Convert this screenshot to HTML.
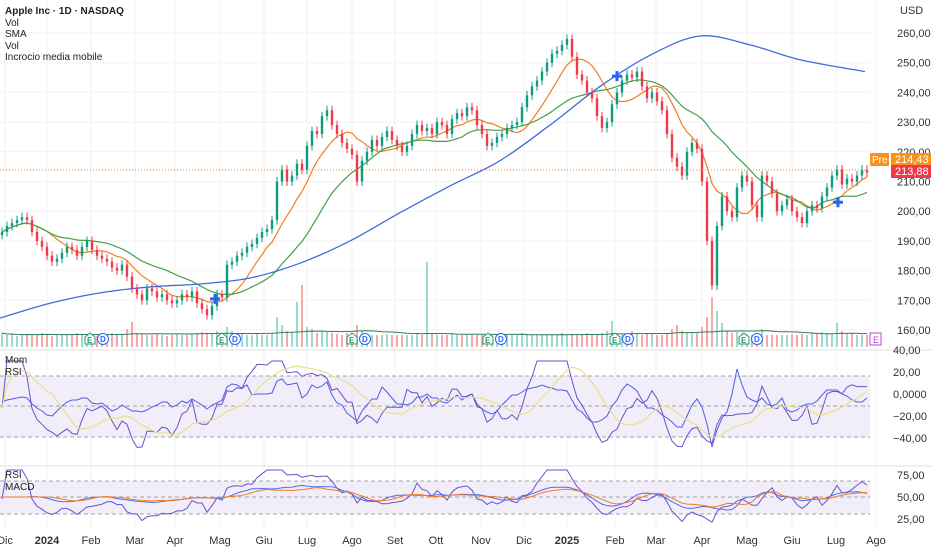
<!DOCTYPE html>
<html><head><meta charset="utf-8"><style>
body{margin:0;background:#fff;font-family:"Liberation Sans",sans-serif;}
#wrap{position:relative;width:932px;height:550px;overflow:hidden;}
svg text{font-family:"Liberation Sans",sans-serif;}
</style></head><body>
<div id="wrap">
<svg id="c" width="932" height="550"></svg>
</div>
<script>
const closes=[193,195,196,197,198,197,193,190,188,185,183,184,186,188,187,185,188,190,187,185,184,183,181,180,182,178,174,172,170,174,173,171,172,170,169,170,172,171,173,169,167,165,168,172,171,182,183,185,186,188,189,191,193,194,197,210,214,210,212,216,214,222,227,226,232,234,229,226,223,221,219,210,217,220,224,222,225,227,224,222,220,222,226,229,227,228,226,230,229,226,231,233,232,235,234,229,226,222,223,225,226,228,229,230,235,239,242,244,247,250,253,254,256,258,252,246,244,240,238,232,228,230,236,240,244,246,245,247,242,238,240,237,234,226,218,215,212,220,223,221,210,190,175,195,205,200,198,208,212,210,202,198,212,210,206,200,202,204,200,198,196,200,202,201,205,208,212,214,209,211,210,212,214,213];
const volumes=[14,12,13,11,12,13,12,12,14,13,11,12,12,13,12,14,12,13,12,11,12,13,14,12,13,18,25,14,13,12,12,13,12,11,12,13,12,12,13,14,15,14,13,16,14,20,16,14,13,12,12,13,12,12,14,30,22,16,15,45,62,20,18,14,16,15,14,13,12,14,14,22,16,13,12,12,12,13,12,12,12,12,12,13,12,85,14,12,12,12,13,12,12,13,12,12,12,12,12,12,12,12,12,12,14,13,12,12,12,13,12,12,14,12,13,12,13,14,12,12,14,16,26,12,12,14,16,13,12,14,14,12,12,14,18,22,16,14,15,14,20,30,50,36,24,16,14,15,14,13,12,13,18,12,12,12,12,12,13,12,13,12,14,14,15,14,13,24,16,14,14,12,12,12];
const smaSlowPts=[[0,164],[50,169],[100,172.5],[150,174.5],[200,175.5],[250,177.5],[300,182.5],[350,190],[400,199.5],[450,208.5],[500,217],[550,229],[600,242],[650,252.5],[700,259],[750,256],[800,251],[865,247]];
const priceTicks=[260,250,240,230,220,210,200,190,180,170,160];
const monthLabels=["Dic","2024","Feb","Mar","Apr","Mag","Giu","Lug","Ago","Set","Ott","Nov","Dic","2025","Feb","Mar","Apr","Mag","Giu","Lug","Ago"];
const monthX=[5,47,91,135,175,220,264,307,352,395,436,481,524,567,615,656,702,747,792,836,876];
const earningsX=[90,222,352,488,615,744];
const crossX=[215,617,838];
const crossP=[170.5,245.5,203];

const svg=document.getElementById('c');const NS='http://www.w3.org/2000/svg';
function mk(t,a,p){const e=document.createElementNS(NS,t);for(const k in a)e.setAttribute(k,a[k]);(p||svg).appendChild(e);return e;}
const xOf=i=>2+i*5;
const yP=p=>330-(p-160)*2.97;
for(const x of monthX){const g=mk('line',{x1:x,x2:x,y1:0,y2:530,stroke:'#f2f2f2'});}
for(const p of priceTicks){const g=mk('line',{x1:0,x2:870,y1:yP(p),y2:yP(p),stroke:'#f2f2f2'});
const t=mk('text',{x:897,y:yP(p)+4,'font-size':11,fill:'#333'});t.textContent=p.toFixed(2).replace('.',',');}
closes.forEach((c,i)=>{const up=i==0||c>=closes[i-1];const v=volumes[i];const b=mk('rect',{x:xOf(i)-1,y:347-v,width:2,height:v,fill:up?'#9fd8cc':'#f5a9a9'});});
let vp='';volumes.forEach((v,i)=>{let s=0,n=0;for(let k=Math.max(0,i-19);k<=i;k++){s+=Math.min(volumes[k],20);n++;}vp+=(i?'L':'M')+xOf(i)+','+(347-s/n);});
const vm=mk('path',{d:vp,fill:'none',stroke:'#2e7d5b','stroke-width':1});
function sma(n){return closes.map((c,i)=>{let s=0,k=0;for(let j=Math.max(0,i-n+1);j<=i;j++){s+=closes[j];k++;}return s/k;});}
function line(arr,col,name){let d='';arr.forEach((v,i)=>{d+=(i?'L':'M')+xOf(i)+','+yP(v);});const l=mk('path',{d,fill:'none',stroke:col,'stroke-width':1.2});}
line(sma(9),'#f57c20','sma-fast');line(sma(22),'#43a047','sma-medium');
let bd='M'+smaSlowPts[0][0]+','+yP(smaSlowPts[0][1]);
for(let i=1;i<smaSlowPts.length;i++){const p0=smaSlowPts[Math.max(0,i-2)],p1=smaSlowPts[i-1],p2=smaSlowPts[i],p3=smaSlowPts[Math.min(smaSlowPts.length-1,i+1)];
const c1x=p1[0]+(p2[0]-p0[0])/6,c1y=yP(p1[1])+(yP(p2[1])-yP(p0[1]))/6,c2x=p2[0]-(p3[0]-p1[0])/6,c2y=yP(p2[1])-(yP(p3[1])-yP(p1[1]))/6;
bd+=`C${c1x},${c1y} ${c2x},${c2y} ${p2[0]},${yP(p2[1])}`;}
const bl=mk('path',{d:bd,fill:'none',stroke:'#3f6bdc','stroke-width':1.3});
closes.forEach((c,i)=>{const o=i?closes[i-1]:c-1;const up=c>=o;const col=up?'#0f9b80':'#ef3a4a';const hi=Math.max(o,c)+1.5,lo=Math.min(o,c)-1.5;
const w=mk('line',{x1:xOf(i),x2:xOf(i),y1:yP(hi),y2:yP(lo),stroke:col,'stroke-width':1});
const r=mk('rect',{x:xOf(i)-1.2,y:yP(Math.max(o,c)),width:2.4,height:Math.max(1,Math.abs(c-o)*2.97),fill:col});});
crossX.forEach((x,i)=>{const y=yP(crossP[i]);const g=mk('path',{d:`M${x-5},${y}H${x+5}M${x},${y-5}V${y+5}`,stroke:'#2962ff','stroke-width':3});});
const lp=mk('line',{x1:0,x2:870,y1:yP(213.88),y2:yP(213.88),stroke:'#f57c20','stroke-dasharray':'1,2'});
earningsX.forEach(x=>{const e=mk('g',{});
mk('path',{d:`M${x-5},344V337L${x},333L${x+5},337V344Z`,fill:'#fff',stroke:'#1e9e6e'},e);const t=mk('text',{x:x-3,y:343,'font-size':8,fill:'#1e9e6e','font-weight':'bold'},e);t.textContent='E';
mk('circle',{cx:x+13,cy:339,r:5.5,fill:'#fff',stroke:'#2962ff'},e);const t2=mk('text',{x:x+10,y:342,'font-size':8,fill:'#2962ff','font-weight':'bold'},e);t2.textContent='D';});
const eb=mk('rect',{x:870,y:333,width:11,height:12,fill:'#fff',stroke:'#c040e0'});
const et=mk('text',{x:873,y:343,'font-size':9,fill:'#c040e0'});et.textContent='E';
mk('rect',{x:870,y:153,width:19,height:13,fill:'#f7931a',rx:1});const pt=mk('text',{x:872,y:163,'font-size':10,fill:'#fff'});pt.textContent='Pre';
mk('rect',{x:891,y:153,width:40,height:13,fill:'#f7931a'});const p1=mk('text',{x:895,y:163,'font-size':11,fill:'#fff'});p1.textContent='214,43';
mk('rect',{x:891,y:165,width:40,height:13,fill:'#f23645'});const p2=mk('text',{x:895,y:175,'font-size':11,fill:'#fff'});p2.textContent='213,88';
const usd=mk('text',{x:900,y:14,'font-size':11,fill:'#333'});usd.textContent='USD';
[350,466].forEach(y=>{const s=mk('line',{x1:0,x2:932,y1:y,y2:y,stroke:'#e0e0e0'});});
mk('rect',{x:0,y:376,width:870,height:61,fill:'#ede7f6',opacity:0.7});
[376,406,437].forEach(y=>mk('line',{x1:0,x2:870,y1:y,y2:y,stroke:'#888','stroke-dasharray':'4,3','stroke-width':0.8}));
[['40,00',354],['20,00',376],['0,0000',398],['\u221220,00',420],['\u221240,00',442]].forEach(a=>{const t=mk('text',{x:893,y:a[1],'font-size':11,fill:'#333'});t.textContent=a[0];});
function rsi(n){return closes.map((c,i)=>{let g=0,l=0;for(let j=Math.max(1,i-n+1);j<=i;j++){const d=closes[j]-closes[j-1];if(d>0)g+=d;else l-=d;}return g+l===0?50:100*g/(g+l);});}
const R=rsi(10);const mom=closes.map((c,i)=>c-closes[Math.max(0,i-5)]);
function path(arr,fy,col,name,w){let d='';arr.forEach((v,i)=>{d+=(i?'L':'M')+xOf(i)+','+fy(v).toFixed(1);});const p=mk('path',{d,fill:'none',stroke:col,'stroke-width':w||1});}
path(mom,v=>Math.max(358,Math.min(460,402-v*1.0)),'#4a5ee8','momentum-line');
path(R,v=>Math.max(358,Math.min(460,456-v*0.95)),'#6a4fcf','rsi-line-1');
const Rs=R.map((v,i)=>{let s=0,k=0;for(let j=Math.max(0,i-9);j<=i;j++){s+=R[j];k++;}return s/k;});
path(Rs,v=>456-v*0.95,'#e8e08a','rsi-signal',1.2);
mk('rect',{x:0,y:481,width:870,height:33,fill:'#ede7f6',opacity:0.7});
[481,497,514].forEach(y=>mk('line',{x1:0,x2:870,y1:y,y2:y,stroke:'#888','stroke-dasharray':'4,3','stroke-width':0.8}));
[['75,00',479],['50,00',501],['25,00',523]].forEach(a=>{const t=mk('text',{x:897,y:a[1],'font-size':11,fill:'#333'});t.textContent=a[0];});
const R2=rsi(12);
path(R2,v=>Math.max(470,Math.min(524,530-v*0.62)),'#6a4fcf','rsi2-line');
const f=sma(6),s2=sma(14),s9=sma(9);
path(closes.map((c,i)=>f[i]-s2[i]),v=>Math.max(472,Math.min(522,497-v*0.9)),'#4a6ee8','macd-line');
path(closes.map((c,i)=>s9[i]-s2[i]),v=>Math.max(472,Math.min(522,497-v*1.1)),'#f57c20','macd-signal');
monthLabels.forEach((m,i)=>{const t=mk('text',{x:monthX[i],y:544,'font-size':11,fill:'#333','text-anchor':'middle','font-weight':(m=='2024'||m=='2025')?'bold':'normal'});t.textContent=m;});
const leg=[['Apple Inc · 1D · NASDAQ',14,'bold'],['Vol',26,''],['SMA',37,''],['Vol',49,''],['Incrocio media mobile',60,''],['Mom',363,''],['RSI',375,''],['RSI',478,''],['MACD',490,'']];
leg.forEach(a=>{const t=mk('text',{x:5,y:a[1],'font-size':10,fill:'#222','font-weight':a[2]||'normal'});t.textContent=a[0];});
</script>
</body></html>
